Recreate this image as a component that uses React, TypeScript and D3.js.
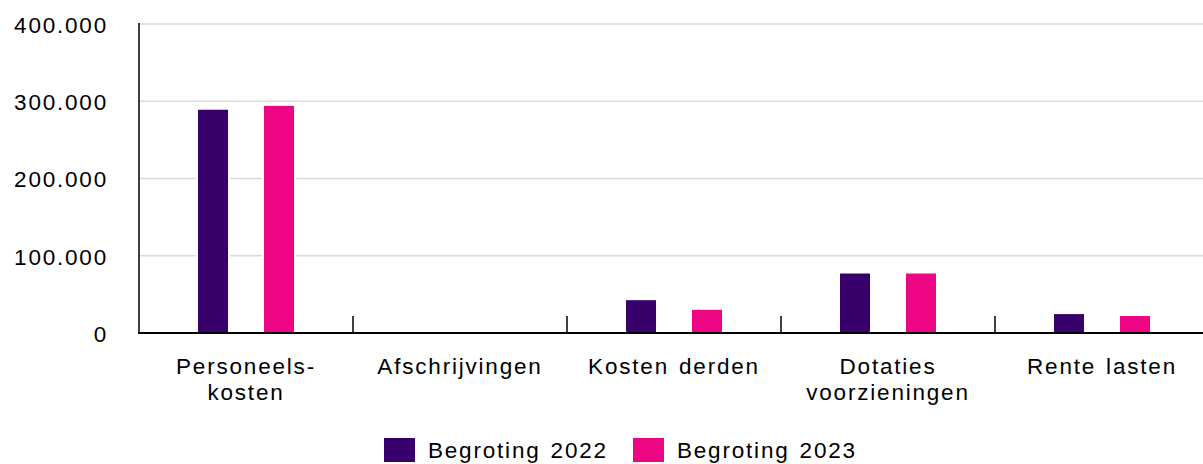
import React, { useEffect, useRef } from "react";
import * as d3 from "d3";

const categories = ["Personeels-\nkosten", "Afschrijvingen", "Kosten derden", "Dotaties\nvoorzieningen", "Rente lasten"];
const seriesNames = ["Begroting 2022", "Begroting 2023"];
const values2022 = [289000, 0, 42500, 77000, 24500];
const values2023 = [294000, 0, 30000, 77000, 22000];
const yTicks = [0, 100000, 200000, 300000, 400000];
const colors = ["#37006b", "#ee0583"];

const App = () => {
  const svgRef = useRef<SVGSVGElement>(null);

  useEffect(() => {
    const width = 1203;
    const height = 464;
    const font = "'Liberation Sans', Arial, sans-serif";
    const fontSize = 22.5;
    const spacing = "1.8px";

    const svg = d3.select(svgRef.current);
    svg.selectAll("*").remove();
    svg.attr("width", width).attr("height", height);

    const left = 139;
    const x0 = d3.scaleBand<string>().domain(categories).range([left, left + 214 * 5]);
    const x1 = d3
      .scaleBand<string>()
      .domain(seriesNames)
      .range([0, x0.bandwidth()])
      .paddingInner(0.545)
      .paddingOuter(0.894);
    const y = d3.scaleLinear().domain([0, 400000]).range([333, 24]);

    // gridlines
    svg
      .append("g")
      .selectAll("line")
      .data(yTicks.slice(1))
      .join("line")
      .attr("x1", left)
      .attr("x2", width)
      .attr("y1", (d) => y(d))
      .attr("y2", (d) => y(d))
      .attr("stroke", "#d9d9d9")
      .attr("stroke-width", 1.5);

    // y labels
    svg
      .append("g")
      .selectAll("text")
      .data(yTicks)
      .join("text")
      .attr("x", 108)
      .attr("y", (d) => y(d) + 1)
      .attr("dy", "0.35em")
      .attr("text-anchor", "end")
      .attr("font-family", font)
      .attr("font-size", fontSize)
      .attr("letter-spacing", spacing)
      .attr("fill", "#000")
      .text((d) => d3.format(",")(d).replace(/,/g, "."));

    const rows = categories.flatMap((c, i) => [
      { cat: c, key: seriesNames[0], value: values2022[i], color: colors[0] },
      { cat: c, key: seriesNames[1], value: values2023[i], color: colors[1] },
    ]);

    // white halo behind bars (gridline gaps)
    svg
      .append("g")
      .selectAll("rect")
      .data(rows.filter((d) => d.value > 0))
      .join("rect")
      .attr("x", (d) => x0(d.cat)! + x1(d.key)! - 2)
      .attr("width", x1.bandwidth() + 4)
      .attr("y", (d) => y(d.value))
      .attr("height", (d) => y(0) - y(d.value))
      .attr("fill", "#fff");

    svg
      .append("g")
      .selectAll("rect")
      .data(rows)
      .join("rect")
      .attr("x", (d) => x0(d.cat)! + x1(d.key)!)
      .attr("width", x1.bandwidth())
      .attr("y", (d) => y(d.value))
      .attr("height", (d) => y(0) - y(d.value))
      .attr("fill", (d) => d.color);

    // axes
    svg
      .append("line")
      .attr("x1", left)
      .attr("x2", left)
      .attr("y1", y(400000) - 1)
      .attr("y2", y(0))
      .attr("stroke", "#000")
      .attr("stroke-width", 1.5);
    svg
      .append("line")
      .attr("x1", left - 1)
      .attr("x2", width)
      .attr("y1", y(0))
      .attr("y2", y(0))
      .attr("stroke", "#000")
      .attr("stroke-width", 2);

    svg
      .append("g")
      .selectAll("line")
      .data(categories.slice(1))
      .join("line")
      .attr("x1", (d) => x0(d)!)
      .attr("x2", (d) => x0(d)!)
      .attr("y1", y(0) - 17)
      .attr("y2", y(0))
      .attr("stroke", "#000")
      .attr("stroke-width", 1.5);

    // category labels
    const catText = svg
      .append("g")
      .selectAll("text")
      .data(categories)
      .join("text")
      .attr("x", (d) => x0(d)! + x0.bandwidth() / 2)
      .attr("y", 374)
      .attr("text-anchor", "middle")
      .attr("font-family", font)
      .attr("font-size", fontSize)
      .attr("letter-spacing", spacing)
      .attr("word-spacing", "2px")
      .attr("fill", "#000");
    catText
      .selectAll("tspan")
      .data((d) => d.split("\n").map((t) => ({ t, x: x0(d)! + x0.bandwidth() / 2 })))
      .join("tspan")
      .attr("x", (d) => d.x)
      .attr("dy", (d, i) => (i === 0 ? 0 : 26))
      .text((d) => d.t);

    // legend
    const legendX = [384, 633];
    const lg = svg
      .append("g")
      .selectAll("g")
      .data(seriesNames)
      .join("g")
      .attr("transform", (d, i) => `translate(${legendX[i]},438)`);
    lg.append("rect").attr("width", 31).attr("height", 24).attr("fill", (d, i) => colors[i]);
    lg.append("text")
      .attr("x", 44)
      .attr("y", 12)
      .attr("dy", "0.35em")
      .attr("font-family", font)
      .attr("font-size", fontSize)
      .attr("letter-spacing", spacing)
      .attr("word-spacing", "2px")
      .attr("fill", "#000")
      .text((d) => d);
  }, []);

  return <svg ref={svgRef} style={{ position: "absolute", left: 0, top: 0 }}></svg>;
};

export default App;
